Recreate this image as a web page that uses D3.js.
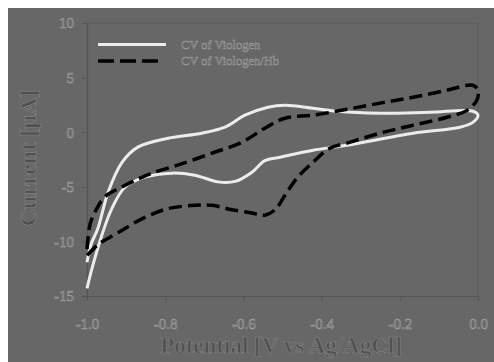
<!DOCTYPE html>
<html>
<head>
<meta charset="utf-8">
<script src="https://cdn.jsdelivr.net/npm/d3@7"></script>
<style>
  html, body { margin: 0; padding: 0; background: #ffffff; }
  svg { display: block; }
</style>
</head>
<body>
<svg id="chart" width="494" height="362"></svg>
<script>
// ---- data ----
const seriesNames = ["CV of Viologen", "CV of Viologen/Hb"];

// CV of Viologen : anodic (return) scan from -1.0 V to 0.0 V
const viologenAnodicPotential = [-1.0, -0.99, -0.972, -0.946, -0.91, -0.87, -0.793, -0.706, -0.647, -0.596, -0.537, -0.494, -0.422, -0.361, -0.251, -0.123, -0.013, 0.0];
const viologenAnodicCurrent   = [-11.9, -10.3, -8.8, -5.5, -2.75, -1.37, -0.55, -0.09, 0.46, 1.56, 2.29, 2.47, 2.2, 1.92, 1.74, 1.83, 1.92, 1.55];
// CV of Viologen : cathodic scan from 0.0 V to -1.0 V
const viologenCathodicPotential = [-0.013, -0.046, -0.166, -0.335, -0.422, -0.506, -0.545, -0.578, -0.621, -0.665, -0.724, -0.783, -0.852, -0.903, -0.936, -0.962, -0.987, -1.0];
const viologenCathodicCurrent   = [0.9, 0.46, -0.09, -1.19, -1.65, -2.29, -2.6, -3.66, -4.5, -4.55, -3.94, -3.75, -4.12, -5.04, -6.96, -9.43, -12.45, -14.3];

// CV of Viologen/Hb : anodic scan
const hbAnodicPotential = [-1.0, -0.992, -0.978, -0.954, -0.91, -0.87, -0.834, -0.767, -0.68, -0.604, -0.545, -0.494, -0.422, -0.335, -0.251, -0.166, -0.079, -0.013, 0.0];
const hbAnodicCurrent   = [-10.7, -8.4, -7.2, -5.9, -5.0, -4.3, -3.75, -3.0, -1.92, -0.92, 0.37, 1.28, 1.56, 2.1, 2.66, 3.2, 3.85, 4.3, 3.85];
// CV of Viologen/Hb : cathodic scan
const hbCathodicPotential = [-0.003, -0.028, -0.079, -0.166, -0.251, -0.335, -0.379, -0.422, -0.463, -0.494, -0.519, -0.545, -0.578, -0.629, -0.68, -0.724, -0.793, -0.852, -0.921, -0.972, -1.0];
const hbCathodicCurrent   = [2.93, 2.0, 1.37, 0.64, -0.09, -1.0, -1.47, -2.75, -4.2, -5.8, -7.1, -7.6, -7.4, -7.1, -6.7, -6.7, -7.0, -7.8, -9.2, -10.3, -11.3];

const xTicks = [-1.0, -0.8, -0.6, -0.4, -0.2, 0.0];
const yTicks = [10, 5, 0, -5, -10, -15];
const xTitle = "Potential [V vs Ag/AgCl]";
const yTitle = "Current [µA]";

// ---- layout ----
const W = 494, H = 362;
const plot = { left: 87, right: 478, top: 23, bottom: 296 };
const bg = "#676767";
const serif = "'Liberation Serif', 'DejaVu Serif', serif";

const svg = d3.select("#chart");
svg.append("rect").attr("x", 8).attr("y", 8).attr("width", W - 8).attr("height", H - 8).attr("fill", bg);

const x = d3.scaleLinear().domain([-1.0, 0.0]).range([plot.left, plot.right]);
const y = d3.scaleLinear().domain([-15, 10]).range([plot.bottom, plot.top]);

// plot frame (top & right)
svg.append("path")
  .attr("d", `M${plot.left},${plot.top}H${plot.right}V${plot.bottom}`)
  .attr("fill", "none").attr("stroke", "#5c5c5c").attr("stroke-width", 1);

const fmtX = d => d3.format(".1f")(d).replace("−", "-");
const xAxis = svg.append("g").attr("transform", `translate(0,${plot.bottom})`)
  .call(d3.axisBottom(x).tickValues(xTicks).tickSize(5).tickSizeOuter(0).tickPadding(17).tickFormat(fmtX));
const yAxis = svg.append("g").attr("transform", `translate(${plot.left},0)`)
  .call(d3.axisLeft(y).tickValues(yTicks).tickSize(5).tickSizeOuter(0).tickPadding(8).tickFormat(d => String(d)));

[xAxis, yAxis].forEach(g => {
  g.select(".domain").attr("stroke", "#555").attr("stroke-width", 1.2);
  g.selectAll(".tick line").attr("stroke", "#555");
  g.selectAll("text").attr("font-family", serif).attr("font-size", 15)
    .attr("fill", "#6a6a6a").attr("stroke", "#a0a0a0").attr("stroke-width", 0.55);
});

// ---- curves ----
const line = d3.line().x(d => x(d[0])).y(d => y(d[1])).curve(d3.curveCatmullRom.alpha(0.5));
const zip = (a, b) => a.map((v, i) => [v, b[i]]);

const viologenPts = zip(viologenAnodicPotential, viologenAnodicCurrent).concat(zip(viologenCathodicPotential, viologenCathodicCurrent));
const hbPts = zip(hbAnodicPotential, hbAnodicCurrent).concat(zip(hbCathodicPotential, hbCathodicCurrent));

svg.append("path").attr("d", line(viologenPts))
  .attr("fill", "none").attr("stroke", "#ececec").attr("stroke-width", 3);
svg.append("path").attr("d", line(hbPts))
  .attr("fill", "none").attr("stroke", "#000").attr("stroke-width", 3.5)
  .attr("stroke-dasharray", "13,6");

// ---- legend ----
const legend = svg.append("g");
const legY = [44.5, 61];
legend.append("line").attr("x1", 98).attr("x2", 166).attr("y1", legY[0]).attr("y2", legY[0])
  .attr("stroke", "#ececec").attr("stroke-width", 3);
legend.append("line").attr("x1", 98).attr("x2", 158).attr("y1", legY[1]).attr("y2", legY[1])
  .attr("stroke", "#000").attr("stroke-width", 3.5).attr("stroke-dasharray", "16,6");
seriesNames.forEach((n, i) => {
  legend.append("text").attr("x", 181).attr("y", legY[i] + 4).text(n)
    .attr("font-family", serif).attr("font-size", 12.5)
    .attr("fill", "#6a6a6a").attr("stroke", "#9c9c9c").attr("stroke-width", 0.5);
});

// ---- axis titles ----
svg.append("text").attr("x", 281).attr("y", 353).attr("text-anchor", "middle").text(xTitle)
  .attr("font-family", serif).attr("font-size", 23).attr("font-weight", "bold")
  .attr("fill", "#505050").attr("stroke", "#858585").attr("stroke-width", 0.6);
svg.append("text").attr("transform", "translate(36,158) rotate(-90)").attr("text-anchor", "middle").text(yTitle)
  .attr("font-family", serif).attr("font-size", 24).attr("font-weight", "bold")
  .attr("fill", "#505050").attr("stroke", "#858585").attr("stroke-width", 0.6);
</script>
</body>
</html>
